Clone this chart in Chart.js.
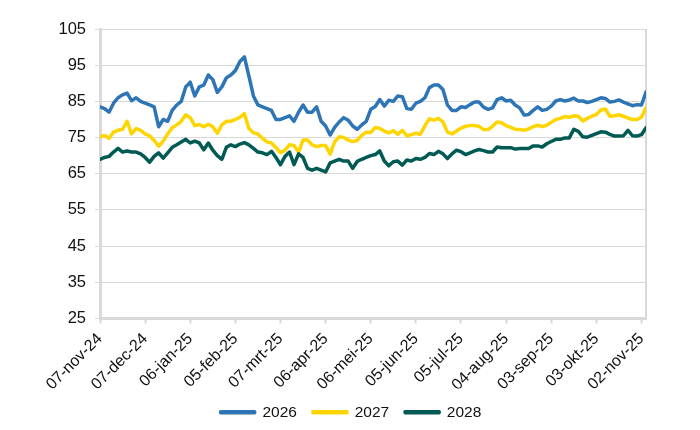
<!DOCTYPE html>
<html>
<head>
<meta charset="utf-8">
<script src="https://cdn.jsdelivr.net/npm/chart.js@4.4.1/dist/chart.umd.min.js"></script>
<style>
  html, body { margin: 0; padding: 0; background: #ffffff; }
  #wrap { width: 700px; height: 430px; position: relative; }
</style>
</head>
<body>
<div id="wrap"><canvas id="c"></canvas></div>
<script>
// ---- data ----
const seriesNames = ['2026', '2027', '2028'];
const tickLabels = ['07-nov-24','07-dec-24','06-jan-25','05-feb-25','07-mrt-25','06-apr-25','06-mei-25','05-jun-25','05-jul-25','04-aug-25','03-sep-25','03-okt-25','02-nov-25'];
const dayStep = 3;      // one observation every 3 days, starting 07-nov-24
const tickStepDays = 30;

const y2026 = [
  83.5, 83.0, 82.0, 84.5, 86.0, 86.8, 87.3, 85.2, 86.0, 85.0,
  84.5, 84.0, 83.5, 78.0, 80.0, 79.5, 82.5, 84.0, 85.0, 89.0,
  90.3, 86.5, 89.0, 89.5, 92.3, 91.0, 87.5, 89.0, 91.5, 92.3,
  93.5, 96.0, 97.3, 92.0, 86.5, 84.0, 83.5, 83.0, 82.5, 80.0,
  80.0, 80.5, 81.0, 79.5, 82.0, 84.0, 82.0, 82.0, 83.5, 79.5,
  78.2, 75.7, 77.8, 79.3, 80.5, 79.8, 78.2, 77.3, 78.5, 79.5,
  82.8, 83.6, 85.5, 83.7, 85.3, 85.0, 86.5, 86.3, 83.0, 82.8,
  84.5, 85.0, 86.0, 88.8, 89.5, 89.5, 88.3, 84.0, 82.5, 82.5,
  83.5, 83.3, 84.1, 84.8, 84.8, 83.4, 82.8, 83.2, 85.5, 86.0,
  85.1, 85.3, 84.0, 83.2, 81.2, 81.4, 82.5, 83.5, 82.5, 82.8,
  83.7, 85.1, 85.5, 85.1, 85.4, 85.9, 85.1, 85.1, 84.7, 85.0,
  85.5, 86.0, 85.8, 84.8, 85.0, 85.4, 84.8, 84.3, 83.8, 84.1,
  84.0, 87.6
];
const y2027 = [
  75.2, 75.6, 74.8, 76.5, 77.0, 77.3, 79.5, 76.0, 77.5, 77.0,
  76.0, 75.5, 74.2, 72.6, 74.0, 76.0, 77.7, 78.5, 79.5, 81.3,
  80.5, 78.3, 78.6, 78.0, 78.7, 78.0, 76.2, 78.5, 79.5, 79.5,
  80.0, 80.6, 81.6, 77.5, 76.3, 76.0, 74.8, 73.8, 73.5, 72.2,
  70.8, 71.5, 73.0, 72.8, 71.0, 74.3, 74.3, 73.0, 72.5, 72.8,
  72.8, 70.4, 73.8, 75.2, 75.0, 74.3, 73.9, 74.2, 75.6, 76.5,
  76.4, 77.8, 77.5, 76.8, 76.3, 76.9, 75.9, 77.0, 75.5, 75.8,
  76.2, 75.9, 78.3, 80.2, 79.8, 80.3, 79.3, 76.5, 76.0, 76.8,
  77.6, 78.1, 78.3, 78.3, 78.1, 77.2, 77.2, 78.1, 79.3, 79.1,
  78.3, 77.8, 77.3, 77.2, 77.0, 77.4, 78.0, 78.4, 78.0, 78.4,
  79.2, 80.0, 80.3, 80.8, 80.6, 81.0, 80.9, 79.6, 80.3, 80.9,
  81.4, 82.6, 82.9, 80.9, 81.0, 81.3, 80.9, 80.4, 80.0, 80.0,
  80.6, 83.3
];
const y2028 = [
  69.0, 69.5, 69.8, 71.0, 72.0, 71.0, 71.3, 71.0, 71.0, 70.5,
  69.5, 68.2, 69.8, 70.8, 69.3, 70.8, 72.3, 73.0, 73.8, 74.5,
  73.5, 74.0, 73.5, 71.6, 73.5, 71.5, 70.0, 69.0, 72.3, 73.0,
  72.5, 73.2, 73.6, 73.0, 72.0, 71.0, 70.8, 70.3, 71.2, 69.5,
  67.5, 69.8, 71.0, 67.5, 70.5, 69.5, 66.5, 66.0, 66.5, 66.0,
  65.5, 68.0, 68.5, 69.0, 68.5, 68.5, 66.5, 68.4, 69.0, 69.5,
  70.0, 70.3, 71.3, 68.5, 67.2, 68.3, 68.5, 67.4, 68.8, 68.5,
  69.2, 69.0, 69.5, 70.6, 70.3, 71.2, 70.5, 69.2, 70.5, 71.5,
  71.1, 70.3, 70.8, 71.3, 71.7, 71.4, 71.0, 71.0, 72.4, 72.2,
  72.2, 72.2, 71.8, 72.0, 72.0, 72.0, 72.7, 72.7, 72.4, 73.3,
  73.9, 74.5, 74.5, 74.9, 74.9, 77.3, 76.7, 75.2, 75.1, 75.6,
  76.1, 76.6, 76.5, 75.9, 75.4, 75.4, 75.5, 77.0, 75.5, 75.4,
  75.8, 77.7
];

// ---- build ----
const days = y2026.map((_, i) => i * dayStep);
const toPts = arr => arr.map((v, i) => ({ x: days[i], y: v }));
const colors = ['#2E75B6', '#FFD500', '#005A54'];
const seriesVals = [y2026, y2027, y2028];

Chart.defaults.font.family = "'Liberation Sans', Arial, sans-serif";
Chart.defaults.font.size = 15;
Chart.defaults.color = '#111111';

const frame = {
  id: 'frame',
  beforeDatasetsDraw(chart) {
    const { ctx, chartArea: a } = chart;
    ctx.save();
    ctx.strokeStyle = '#d9d9d9';
    ctx.lineWidth = 2;
    ctx.beginPath();
    ctx.moveTo(a.right, a.top);
    ctx.lineTo(a.right, a.bottom);
    ctx.stroke();
    ctx.restore();
  }
};

new Chart(document.getElementById('c'), {
  type: 'line',
  data: {
    datasets: seriesNames.map((name, k) => ({
      label: name,
      data: toPts(seriesVals[k]),
      borderColor: colors[k],
      backgroundColor: colors[k],
      borderWidth: 3.5,
      pointRadius: 0,
      tension: 0,
      borderJoinStyle: 'round',
      borderCapStyle: 'round',
      order: 3 - k
    }))
  },
  options: {
    responsive: true,
    maintainAspectRatio: false,
    animation: false,
    layout: { padding: { top: 29, left: 56, right: 54, bottom: 0 } },
    plugins: {
      tooltip: { enabled: false },
      legend: {
        position: 'bottom',
        labels: {
          boxWidth: 34,
          boxHeight: 1,
          padding: 16,
          color: '#111111',
          font: { size: 15.5 },
          sort: (a, b) => a.datasetIndex - b.datasetIndex
        }
      }
    },
    scales: {
      x: {
        type: 'linear',
        min: 0,
        max: 363,
        afterFit: s => { s.height = 70; },
        afterBuildTicks: s => { s.ticks = tickLabels.map((_, i) => ({ value: i * tickStepDays })); },
        grid: { drawOnChartArea: false, drawTicks: true, tickLength: 5, tickWidth: 2, tickColor: '#d9d9d9' },
        border: { display: true, color: '#d9d9d9', width: 3 },
        ticks: {
          autoSkip: false,
          maxRotation: 45,
          minRotation: 45,
          padding: 6,
          color: '#111111',
          font: { size: 16 },
          callback: v => tickLabels[Math.round(v / tickStepDays)]
        }
      },
      y: {
        min: 25,
        max: 105,
        afterFit: s => { s.width = 44; },
        grid: { color: '#d9d9d9', lineWidth: 1, drawTicks: true, tickLength: 5 },
        border: { display: true, color: '#d9d9d9', width: 3 },
        ticks: { stepSize: 10, padding: 9, color: '#111111', font: { size: 16.5 } }
      }
    }
  },
  plugins: [frame]
});
</script>
</body>
</html>
